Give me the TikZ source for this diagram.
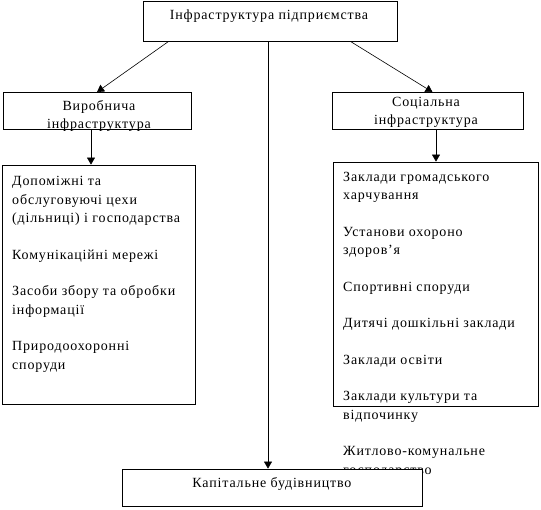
\documentclass[tikz,border=0pt]{standalone}
\usepackage{fontspec}
\setmainfont{Liberation Serif}[LetterSpace=6]
\usetikzlibrary{arrows.meta}

\tikzset{
  box/.style={draw, line width=0.8pt, fill=white, inner sep=0pt},
  lbl/.style={inner sep=0pt, align=center, font=\fontsize{14}{18}\selectfont},
  listtext/.style={inner sep=0pt, align=left, anchor=north west, font=\fontsize{14}{18.5}\selectfont},
  link/.style={->, line width=0.6pt},
}

\begin{document}
\begin{tikzpicture}[x=1pt, y=-1pt, >={Triangle[length=7pt,width=8pt]}]
    \useasboundingbox (0,0) rectangle (541,509);
    % boxes
    \node[box, minimum width=254pt, minimum height=40pt] (infra) at (270,21) {};
    \node[box, minimum width=188pt, minimum height=37pt] (vyr) at (97,111) {};
    \node[box, minimum width=191pt, minimum height=37pt] (soc) at (427.5,111) {};
    \node[box, minimum width=193pt, minimum height=239pt] (vlist) at (98.5,284.5) {};
    \node[box, minimum width=205pt, minimum height=244pt] (slist) at (435.5,284) {};
    % texts
    \node[lbl] (infratxt) at (269,16) {Інфраструктура підприємства};
    \node[lbl] (vyrtxt) at (99,115.8) {Виробнича\\інфраструктура};
    \node[lbl] (soctxt) at (426,112.8) {Соціальна\\інфраструктура};
    \node[listtext] (vlisttxt) at (12,176.3) {Допоміжні та\\обслуговуючі цехи\\(дільниці) і господарства\\[18pt]
        Комунікаційні мережі\\[18pt]
        Засоби збору та обробки\\інформації\\[18pt]
        Природоохоронні\\споруди};
    \node[listtext] (slisttxt) at (343,171.8) {Заклади громадського\\харчування\\[18pt]
        Установи охороно\\здоров’я\\[18pt]
        Спортивні споруди\\[18pt]
        Дитячі дошкільні заклади\\[18pt]
        Заклади освіти\\[18pt]
        Заклади культури та\\відпочинку\\[18pt]
        Житлово-комунальне\\господарство};
    % connectors
    \draw[link] ([xshift=26pt]infra.south west) -- (vyr.north);
    \draw[link] ([xshift=-47pt]infra.south east) -- ([xshift=5pt]soc.north);
    \draw[link] ([xshift=-6pt]vyr.south) -- ([xshift=-7.5pt]vlist.north);
    \draw[link] ([xshift=8.5pt]soc.south) -- ([xshift=0.5pt]slist.north);
    % bottom box over the list text
    \node[box, minimum width=300pt, minimum height=37pt] (bud) at (272,487.5) {};
    \node[lbl] (budtxt) at (272,484) {Капітальне будівництво};
    \draw[link] ([xshift=-2pt]infra.south) -- ([xshift=-4pt]bud.north);
\end{tikzpicture}
\end{document}
